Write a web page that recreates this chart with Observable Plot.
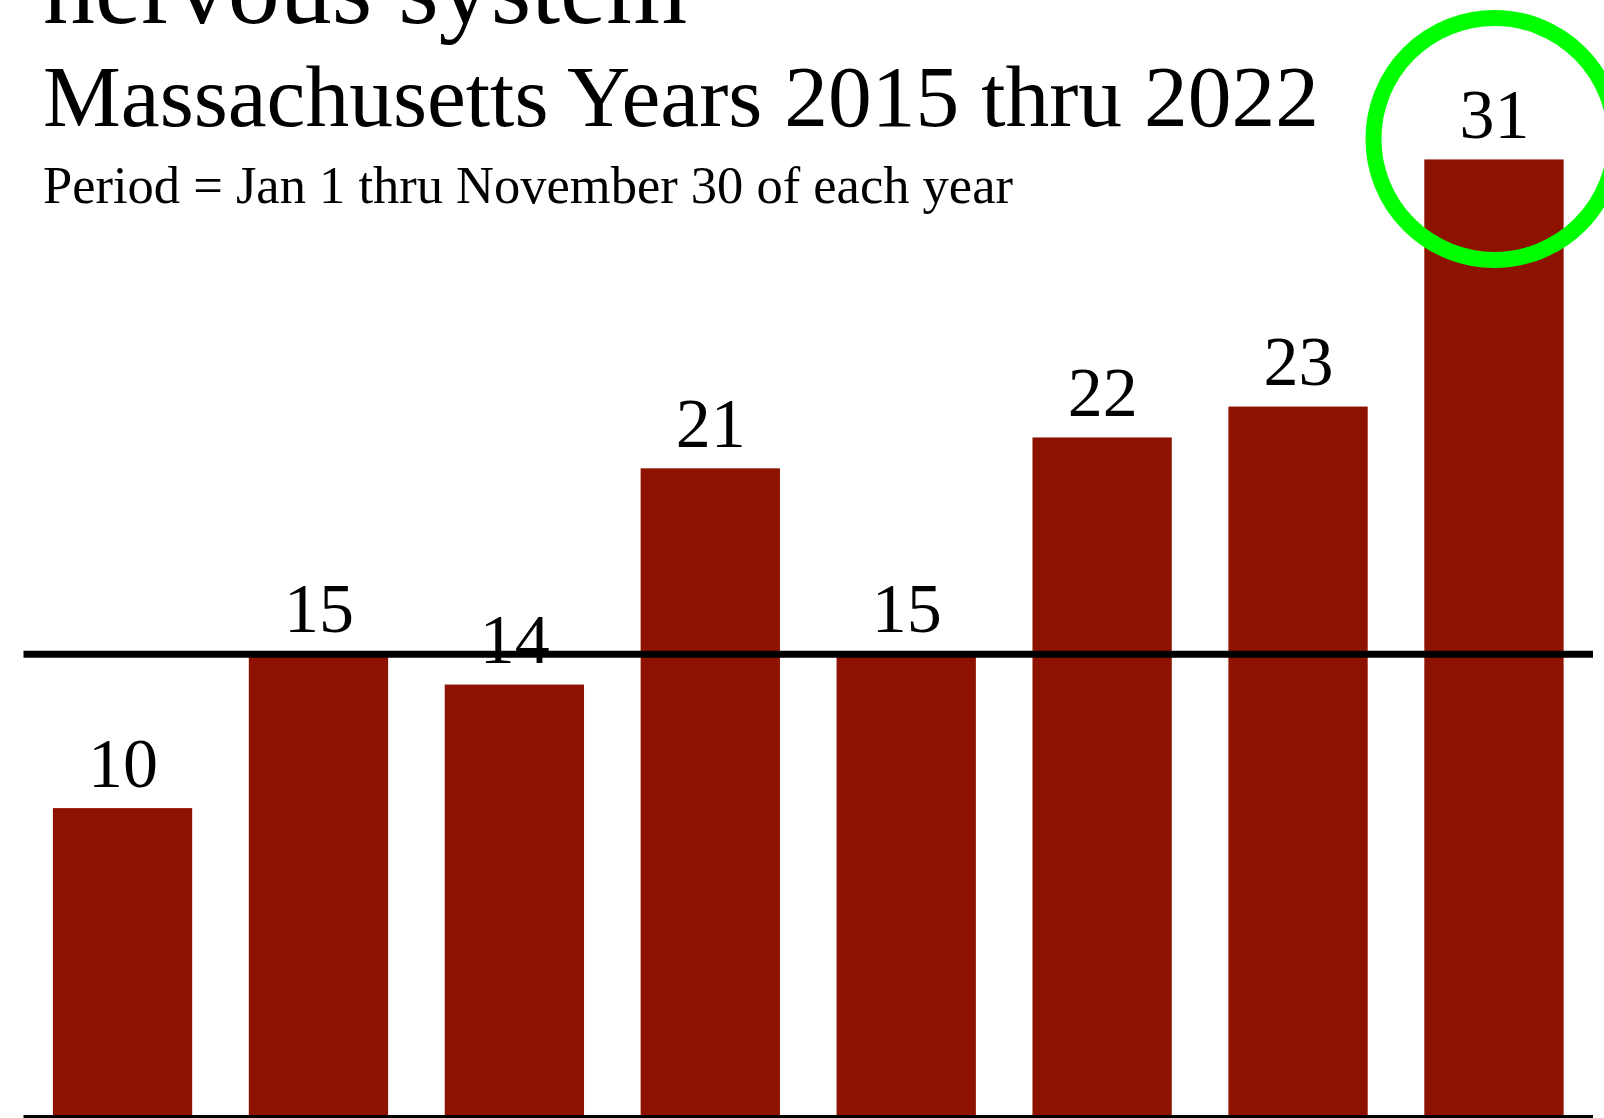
<!DOCTYPE html>
<html>
<head>
<meta charset="utf-8">
<script src="https://cdn.jsdelivr.net/npm/d3@7"></script>
<script src="https://cdn.jsdelivr.net/npm/@observablehq/plot@0.6"></script>
<style>
  html, body { margin: 0; padding: 0; background: #fff; }
  #wrap { position: relative; width: 1604px; height: 1118px; overflow: hidden; }
  #wrap svg { position: absolute; left: 0; top: 0; }
  .ttl { position: absolute; left: 43px; white-space: nowrap; line-height: 1;
         font-family: "Liberation Serif", "Times New Roman", serif; color: #000; z-index: 2; }
  #t1 { font-size: 104px; top: -64px; }
  #t2 { font-size: 87.5px; top: 53px; }
  #t3 { font-size: 52.5px; top: 159px; }
</style>
</head>
<body>
<div id="wrap">
  <div class="ttl" id="t1">nervous system</div>
  <div class="ttl" id="t2">Massachusetts Years 2015 thru 2022</div>
  <div class="ttl" id="t3">Period = Jan 1 thru November 30 of each year</div>
</div>
<script>
const years = ["2015", "2016", "2017", "2018", "2019", "2020", "2021", "2022"];
const counts = [10, 15, 14, 21, 15, 22, 23, 31];
const referenceLine = [15];
const highlightYear = ["2022"];
const highlightValue = [31];

const data = years.map((y, i) => ({year: y, value: counts[i]}));
const highlight = highlightYear.map((y, i) => ({year: y, value: highlightValue[i]}));

const chart = Plot.plot({
  width: 1604,
  height: 1118,
  marginTop: 5,
  marginBottom: 1,
  marginLeft: 23.5,
  marginRight: 11,
  style: {background: "transparent", overflow: "hidden"},
  x: {domain: years, paddingInner: 0.289, paddingOuter: 0.15, round: false, axis: null},
  y: {domain: [0, 36], axis: null},
  marks: [
    Plot.barY(data, {x: "year", y: "value", fill: "#8e1200"}),
    Plot.ruleY(referenceLine, {stroke: "#000", strokeWidth: 7}),
    Plot.ruleY([0], {stroke: "#000", strokeWidth: 5}),
    Plot.text(data, {
      x: "year", y: "value", text: d => String(d.value),
      lineAnchor: "bottom", dy: -22, fontSize: 70,
      fontFamily: "Liberation Serif, Times New Roman, serif", fill: "#000"
    }),
    Plot.dot(highlight, {
      x: "year", y: "value", r: 121, dy: -21,
      stroke: "#00ff00", strokeWidth: 16, fill: "none"
    })
  ]
});
document.getElementById("wrap").appendChild(chart);
</script>
</body>
</html>
